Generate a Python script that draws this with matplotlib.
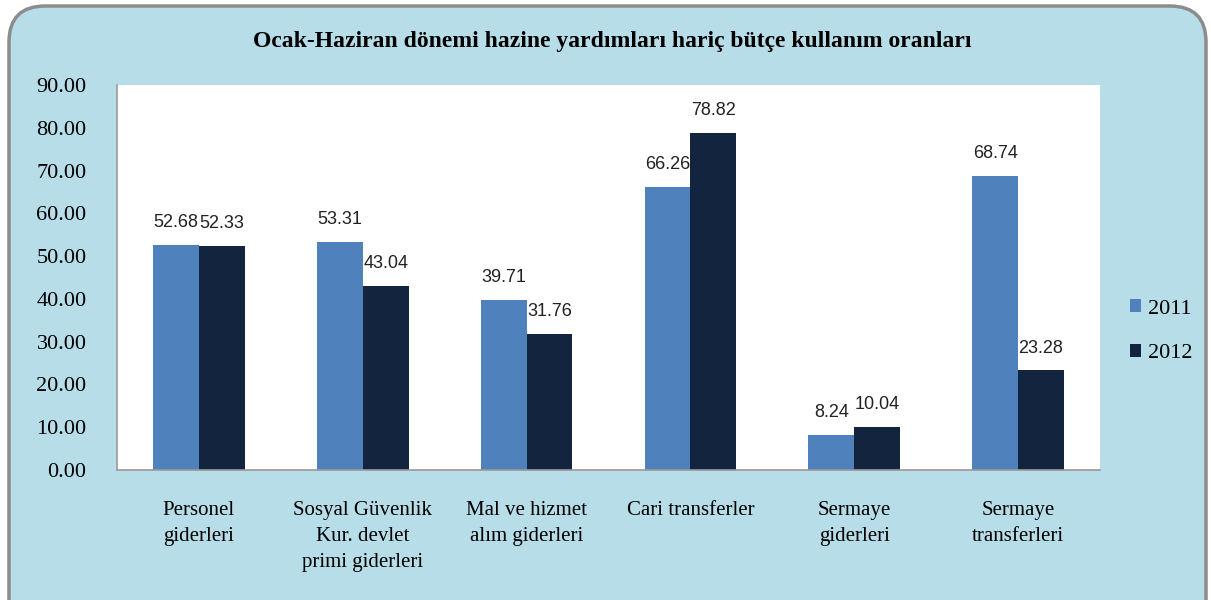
import numpy as np
import matplotlib.pyplot as plt
from matplotlib.patches import FancyBboxPatch

# --- data ---
categories = ["Personel\ngiderleri", "Sosyal Güvenlik\nKur. devlet\nprimi giderleri",
              "Mal ve hizmet\nalım giderleri", "Cari transferler",
              "Sermaye\ngiderleri", "Sermaye\ntransferleri"]
v2011 = [52.68, 53.31, 39.71, 66.26, 8.24, 68.74]
v2012 = [52.33, 43.04, 31.76, 78.82, 10.04, 23.28]
series = ["2011", "2012"]
yticks = [0, 10, 20, 30, 40, 50, 60, 70, 80, 90]

C11 = "#4f81bd"
C12 = "#13243f"
BG = "#b7dde8"

fig = plt.figure(figsize=(12.11, 6), dpi=100)
fig.patch.set_facecolor("white")

# rounded chart area background
box = FancyBboxPatch((9/1211, -0.1), 1197/1211, 1.1 - 6/600,
                     boxstyle="round,pad=0,rounding_size=0.03",
                     transform=fig.transFigure, facecolor=BG,
                     edgecolor="#8c8c8c", lw=2.5, mutation_aspect=2.0, zorder=-10)
fig.patches.append(box)

ax = fig.add_axes([117/1211, 1-470/600, (1100-117)/1211, (470-85)/600])
ax.set_facecolor("white")

x = np.arange(len(categories))
w = 0.28
b1 = ax.bar(x - w/2, v2011, w, color=C11, label=series[0])
b2 = ax.bar(x + w/2, v2012, w, color=C12, label=series[1])

for bars, vals in ((b1, v2011), (b2, v2012)):
    for r, v in zip(bars, vals):
        ax.annotate(f"{v:.2f}", (r.get_x() + r.get_width()/2, v),
                    xytext=(0, 10), textcoords="offset points",
                    ha="center", va="bottom", fontsize=13,
                    family="Liberation Sans", color="#222222")

ax.set_xlim(-0.5, len(categories) - 0.5)
ax.set_ylim(0, 90)
ax.set_yticks(yticks)
ax.set_yticklabels([f"{t:.2f}" for t in yticks], family="Liberation Serif", fontsize=16)
ax.set_xticks(x)
ax.set_xticklabels(categories, family="Liberation Serif", fontsize=15,
                   va="top", linespacing=1.5)
ax.tick_params(axis="both", length=0)
ax.tick_params(axis="x", pad=22)
ax.tick_params(axis="y", pad=22)
for s in ("top", "right"):
    ax.spines[s].set_visible(False)
for s in ("left", "bottom"):
    ax.spines[s].set_color("#999999")
    ax.spines[s].set_linewidth(1.2)

fig.text(612/1211, 1-42/600, "Ocak-Haziran dönemi hazine yardımları hariç bütçe kullanım oranları",
         ha="center", va="center", family="Liberation Serif", fontweight="bold", fontsize=17)

leg = ax.legend(loc="center left", bbox_to_anchor=(1.01, 0.36), frameon=False,
                prop={"family": "Liberation Serif", "size": 16},
                handlelength=0.5, handleheight=0.5, handletextpad=0.3,
                labelspacing=1.15)

fig.savefig("out.png", dpi=100, facecolor=fig.get_facecolor())
